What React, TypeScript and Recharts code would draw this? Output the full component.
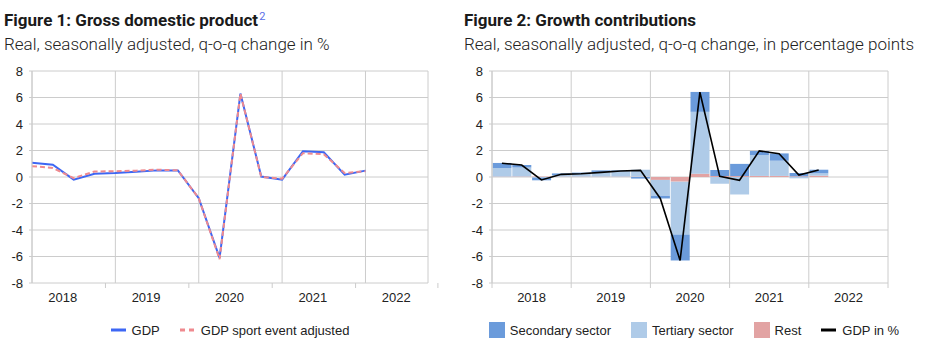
import { ComposedChart, Line, Bar, XAxis, YAxis, CartesianGrid, ReferenceLine, Legend } from 'recharts';

const quarters = [
  '2018Q1', '2018Q2', '2018Q3', '2018Q4',
  '2019Q1', '2019Q2', '2019Q3', '2019Q4',
  '2020Q1', '2020Q2', '2020Q3', '2020Q4',
  '2021Q1', '2021Q2', '2021Q3', '2021Q4',
  '2022Q1', '2022Q2', '2022Q3', '2022Q4',
];
const years = ['2018', '2019', '2020', '2021', '2022'];
const yTicks = [-8, -6, -4, -2, 0, 2, 4, 6, 8];

// Figure 1
const gdp = [1.07, 0.93, -0.2, 0.25, 0.3, 0.4, 0.5, 0.5, -1.6, -6.1, 6.3, 0.03, -0.2, 1.95, 1.87, 0.18, 0.48];
const gdpAdjusted = [0.82, 0.68, -0.08, 0.42, 0.43, 0.48, 0.55, 0.5, -1.6, -6.2, 6.3, 0.0, -0.12, 1.8, 1.72, 0.3, 0.44];

// Figure 2
const secondary = [0.38, 0.2, -0.2, 0.12, 0.12, 0.12, 0.03, -0.12, -0.2, -1.95, 1.5, 0.45, 0.92, 0.3, 0.55, 0.25, 0.27];
const tertiary = [0.65, 0.68, -0.05, 0.12, 0.18, 0.35, 0.47, 0.52, -1.2, -4.0, 4.67, -0.5, -1.32, 1.58, 1.15, -0.1, 0.18];
const rest = [0.03, 0.03, 0.03, 0.03, 0.03, 0.03, 0.03, 0.03, -0.22, -0.35, 0.25, 0.08, 0.07, 0.08, 0.08, 0.05, 0.1];
const gdpInPct = [1.04, 0.9, -0.22, 0.2, 0.25, 0.35, 0.45, 0.5, -1.62, -6.3, 6.4, 0.05, -0.25, 1.97, 1.75, 0.15, 0.53];

const PANEL_W = 460;
const CHART_H = 290;
const MARGIN = { top: 11, right: 32, bottom: 10, left: 0 };
const Y_W = 32;
const PLOT_W = PANEL_W - MARGIN.left - MARGIN.right - Y_W;
const QW = PLOT_W / quarters.length;
const TICK_GAP = 10;

const GRID = '#cccccc';
const TEXT = '#222222';
const TICK_FONT = { fontSize: 13, fill: TEXT, fontFamily: '"Liberation Sans", Arial, sans-serif' };

const COLORS = {
  gdp: '#3d67f4',
  adjusted: '#ef8a8f',
  secondary: '#6b9bdb',
  tertiary: '#afcbe8',
  rest: '#e2a3a3',
  gdpInPct: '#000000',
};

const data1 = quarters.map((q, i) => ({ q, gdp: gdp[i] ?? null, adjusted: gdpAdjusted[i] ?? null }));
const data2 = quarters.map((q, i) => ({
  q,
  secondary: secondary[i] ?? null,
  tertiary: tertiary[i] ?? null,
  rest: rest[i] ?? null,
  gdpInPct: gdpInPct[i] ?? null,
}));

// year label centred on the year, short tick marks on the year boundaries
function YearTick(props: any) {
  const { x, y, payload } = props;
  const q = String(payload.value);
  const axisY = y - TICK_GAP;
  return (
    <g>
      {q.endsWith('Q1') && <line x1={x - QW / 2} x2={x - QW / 2} y1={axisY} y2={axisY + 5} stroke={GRID} />}
      {q === '2022Q4' && <line x1={x + QW / 2} x2={x + QW / 2} y1={axisY} y2={axisY + 5} stroke={GRID} />}
      {q.endsWith('Q2') && (
        <text x={x + QW / 2} y={y} dy="0.71em" textAnchor="middle" {...TICK_FONT}>
          {q.slice(0, 4)}
        </text>
      )}
    </g>
  );
}

type LegendItem = { label: string; color: string; kind: 'line' | 'dash' | 'square' };

function LegendRow({ items, shift = 0 }: { items: LegendItem[]; shift?: number }) {
  return (
    <div
      style={{
        display: 'flex',
        justifyContent: 'center',
        alignItems: 'center',
        height: 20,
        whiteSpace: 'nowrap',
        fontFamily: TICK_FONT.fontFamily,
        fontSize: 13,
        color: TEXT,
        marginLeft: shift,
      }}
    >
      {items.map((it, i) => (
        <div key={it.label} style={{ display: 'flex', alignItems: 'center', marginLeft: i === 0 ? 0 : 20 }}>
          {it.kind === 'square' ? (
            <span style={{ display: 'inline-block', width: 16, height: 16, background: it.color, marginRight: 5 }} />
          ) : (
            <svg width={15} height={10} style={{ marginRight: 6 }}>
              <line
                x1={0}
                y1={5}
                x2={15}
                y2={5}
                stroke={it.color}
                strokeWidth={3}
                strokeDasharray={it.kind === 'dash' ? '5 4' : undefined}
              />
            </svg>
          )}
          <span>{it.label}</span>
        </div>
      ))}
    </div>
  );
}

function yearLines() {
  const lines = years.map((y) => (
    <ReferenceLine key={y} x={`${y}Q1`} position="start" stroke={GRID} strokeWidth={1} />
  ));
  lines.push(<ReferenceLine key="end" x="2022Q4" position="end" stroke={GRID} strokeWidth={1} />);
  return lines;
}

function Panel({ left, title, sup, subtitle, children }: any) {
  return (
    <div style={{ position: 'absolute', left, top: 0, width: PANEL_W, height: 364 }}>
      <div
        style={{
          position: 'absolute',
          left: 4,
          top: 10,
          fontFamily: 'Roboto, sans-serif',
          fontWeight: 700,
          fontSize: 17,
          lineHeight: '20px',
          color: '#1a1a1a',
          whiteSpace: 'nowrap',
        }}
      >
        {title}
        {sup && (
          <sup style={{ fontWeight: 400, fontSize: 11, color: '#5a6ee8', verticalAlign: 'top', lineHeight: '14px', marginLeft: 1 }}>
            {sup}
          </sup>
        )}
      </div>
      <div
        style={{
          position: 'absolute',
          left: 4,
          top: 34,
          fontFamily: 'Roboto, sans-serif',
          fontWeight: 300,
          fontSize: 17,
          lineHeight: '20px',
          color: '#222',
          whiteSpace: 'nowrap',
        }}
      >
        {subtitle}
      </div>
      <div style={{ position: 'absolute', left: 0, top: 60 }}>{children}</div>
    </div>
  );
}

function QuarterAxes() {
  return null;
}

export default function App() {
  return (
    <div style={{ position: 'absolute', left: 0, top: 0, width: 929, height: 364, background: '#fff', overflow: 'hidden' }}>
      <Panel left={0} title="Figure 1: Gross domestic product" sup="2" subtitle="Real, seasonally adjusted, q-o-q change in %">
        <ComposedChart width={PANEL_W} height={CHART_H} data={data1} margin={MARGIN}>
          <CartesianGrid vertical={false} stroke={GRID} />
          {yearLines()}
          <XAxis dataKey="q" interval={0} tick={<YearTick />} tickLine={false} axisLine={false} tickSize={0} tickMargin={TICK_GAP} height={37} />
          <YAxis
            domain={[-8, 8]}
            ticks={yTicks}
            width={Y_W}
            tick={TICK_FONT}
            tickSize={3}
            tickMargin={6}
            tickLine={{ stroke: GRID }}
            axisLine={{ stroke: GRID }}
          />
          <Line dataKey="gdp" name="GDP" type="linear" stroke={COLORS.gdp} strokeWidth={2} dot={false} isAnimationActive={false} />
          <Line
            dataKey="adjusted"
            name="GDP sport event adjusted"
            type="linear"
            stroke={COLORS.adjusted}
            strokeWidth={2}
            strokeDasharray="5 3"
            dot={false}
            isAnimationActive={false}
          />
          <Legend
            verticalAlign="bottom"
            height={20}
            wrapperStyle={{ left: 0, width: PANEL_W }}
            content={() => (
              <LegendRow
                items={[
                  { label: 'GDP', color: COLORS.gdp, kind: 'line' },
                  { label: 'GDP sport event adjusted', color: COLORS.adjusted, kind: 'dash' },
                ]}
              />
            )}
          />
        </ComposedChart>
      </Panel>
      <Panel left={460} title="Figure 2: Growth contributions" subtitle="Real, seasonally adjusted, q-o-q change, in percentage points">
        <ComposedChart width={PANEL_W} height={CHART_H} data={data2} margin={MARGIN} stackOffset="sign" barCategoryGap={0.5}>
          <CartesianGrid vertical={false} stroke={GRID} />
          {yearLines()}
          <XAxis dataKey="q" interval={0} tick={<YearTick />} tickLine={false} axisLine={false} tickSize={0} tickMargin={TICK_GAP} height={37} />
          <YAxis
            domain={[-8, 8]}
            ticks={yTicks}
            width={Y_W}
            tick={TICK_FONT}
            tickSize={3}
            tickMargin={6}
            tickLine={{ stroke: GRID }}
            axisLine={{ stroke: GRID }}
          />
          <Bar dataKey="rest" name="Rest" stackId="c" fill={COLORS.rest} isAnimationActive={false} />
          <Bar dataKey="tertiary" name="Tertiary sector" stackId="c" fill={COLORS.tertiary} isAnimationActive={false} />
          <Bar dataKey="secondary" name="Secondary sector" stackId="c" fill={COLORS.secondary} isAnimationActive={false} />
          <Line dataKey="gdpInPct" name="GDP in %" type="linear" stroke={COLORS.gdpInPct} strokeWidth={1.6} dot={false} isAnimationActive={false} />
          <Legend
            verticalAlign="bottom"
            height={20}
            wrapperStyle={{ left: 0, width: PANEL_W }}
            content={() => (
              <LegendRow
                shift={8}
                items={[
                  { label: 'Secondary sector', color: COLORS.secondary, kind: 'square' },
                  { label: 'Tertiary sector', color: COLORS.tertiary, kind: 'square' },
                  { label: 'Rest', color: COLORS.rest, kind: 'square' },
                  { label: 'GDP in %', color: COLORS.gdpInPct, kind: 'line' },
                ]}
              />
            )}
          />
        </ComposedChart>
      </Panel>
    </div>
  );
}
